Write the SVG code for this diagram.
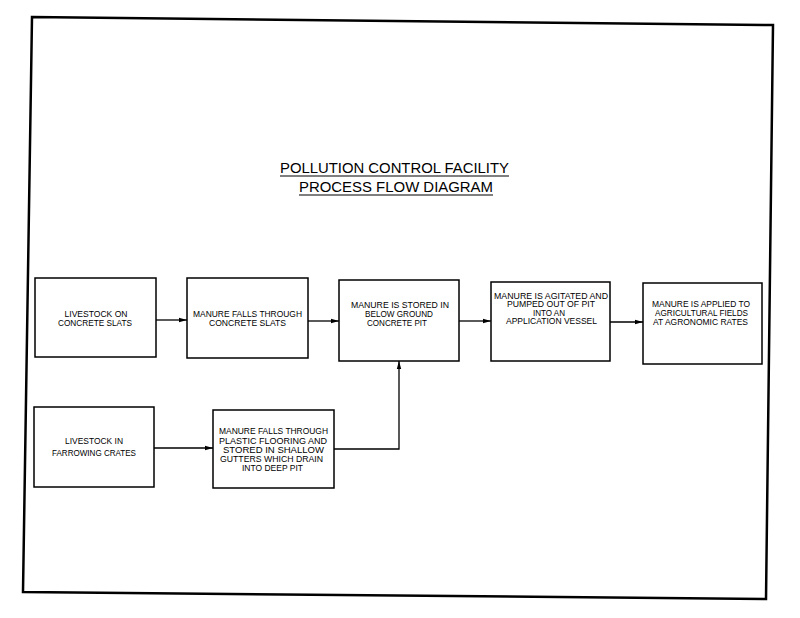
<svg xmlns="http://www.w3.org/2000/svg" width="800" height="618" viewBox="0 0 800 618">
<style>
.box{fill:#fff;stroke:#000;stroke-width:1.5}
.t{font-family:"Liberation Sans",Arial,sans-serif;font-size:8.5px;text-anchor:middle;fill:#000}
.title{font-family:"Liberation Sans",Arial,sans-serif;font-size:14px;text-anchor:middle;fill:#000}
.c{fill:none;stroke:#000;stroke-width:1.3}
</style>
<defs>
<marker id="ah" markerWidth="8" markerHeight="6" refX="8" refY="3" orient="auto" markerUnits="userSpaceOnUse">
<path d="M0,0.8 L8,3 L0,5.2 Z" fill="#000"/>
</marker>
</defs>
<rect width="800" height="618" fill="#fff"/>
<g id="frame">
<polygon points="32,17 773,25 766,599 23,592" fill="none" stroke="#000" stroke-width="2.5"/>
</g>
<g id="title">
<text class="title" x="394.5" y="173" textLength="229" lengthAdjust="spacingAndGlyphs">POLLUTION CONTROL FACILITY</text>
<line x1="280" y1="176" x2="509" y2="176" stroke="#000" stroke-width="1.2"/>
<text class="title" x="396" y="192" textLength="194" lengthAdjust="spacingAndGlyphs">PROCESS FLOW DIAGRAM</text>
<line x1="299" y1="195" x2="493" y2="195" stroke="#000" stroke-width="1.2"/>
</g>
<g id="connectors">
<path class="c" d="M156,320 H187" marker-end="url(#ah)"/>
<path class="c" d="M308,321 H339" marker-end="url(#ah)"/>
<path class="c" d="M459,321 H491" marker-end="url(#ah)"/>
<path class="c" d="M610,322 H643" marker-end="url(#ah)"/>
<path class="c" d="M154,448 H213" marker-end="url(#ah)"/>
<path class="c" d="M334,449 H399 V361" marker-end="url(#ah)"/>
</g>
<g id="n1">
<rect class="box" x="35" y="278" width="121" height="79"/>
<text class="t" x="96" y="317" textLength="63" lengthAdjust="spacingAndGlyphs">LIVESTOCK ON</text>
<text class="t" x="95" y="326" textLength="74" lengthAdjust="spacingAndGlyphs">CONCRETE SLATS</text>
</g>
<g id="n2">
<rect class="box" x="187" y="278" width="121" height="80"/>
<text class="t" x="247.5" y="317" textLength="109" lengthAdjust="spacingAndGlyphs">MANURE FALLS THROUGH</text>
<text class="t" x="247.5" y="326" textLength="77" lengthAdjust="spacingAndGlyphs">CONCRETE SLATS</text>
</g>
<g id="n3">
<rect class="box" x="339" y="280" width="120" height="81"/>
<text class="t" x="400" y="308" textLength="98" lengthAdjust="spacingAndGlyphs">MANURE IS STORED IN</text>
<text class="t" x="399" y="317" textLength="68" lengthAdjust="spacingAndGlyphs">BELOW GROUND</text>
<text class="t" x="397" y="326" textLength="60" lengthAdjust="spacingAndGlyphs">CONCRETE PIT</text>
</g>
<g id="n4">
<rect class="box" x="491" y="282" width="119" height="79"/>
<text class="t" x="551" y="298.5" textLength="114" lengthAdjust="spacingAndGlyphs">MANURE IS AGITATED AND</text>
<text class="t" x="551" y="307" textLength="88" lengthAdjust="spacingAndGlyphs">PUMPED OUT OF PIT</text>
<text class="t" x="549" y="315.5" textLength="32" lengthAdjust="spacingAndGlyphs">INTO AN</text>
<text class="t" x="551.5" y="324" textLength="91" lengthAdjust="spacingAndGlyphs">APPLICATION VESSEL</text>
</g>
<g id="n5">
<rect class="box" x="643" y="283" width="119" height="81"/>
<text class="t" x="701" y="307" textLength="98" lengthAdjust="spacingAndGlyphs">MANURE IS APPLIED TO</text>
<text class="t" x="701.5" y="316" textLength="93" lengthAdjust="spacingAndGlyphs">AGRICULTURAL FIELDS</text>
<text class="t" x="700.5" y="325" textLength="95" lengthAdjust="spacingAndGlyphs">AT AGRONOMIC RATES</text>
</g>
<g id="n6">
<rect class="box" x="34" y="407" width="120" height="80"/>
<text class="t" x="94" y="444" textLength="58" lengthAdjust="spacingAndGlyphs">LIVESTOCK IN</text>
<text class="t" x="94" y="456" textLength="84" lengthAdjust="spacingAndGlyphs">FARROWING CRATES</text>
</g>
<g id="n7">
<rect class="box" x="213" y="410" width="121" height="78"/>
<text class="t" x="273.5" y="434" textLength="109" lengthAdjust="spacingAndGlyphs">MANURE FALLS THROUGH</text>
<text class="t" x="273" y="444" textLength="108" lengthAdjust="spacingAndGlyphs">PLASTIC FLOORING AND</text>
<text class="t" x="273.5" y="453" textLength="101" lengthAdjust="spacingAndGlyphs">STORED IN SHALLOW</text>
<text class="t" x="271.5" y="462" textLength="103" lengthAdjust="spacingAndGlyphs">GUTTERS WHICH DRAIN</text>
<text class="t" x="272.5" y="471" textLength="61" lengthAdjust="spacingAndGlyphs">INTO DEEP PIT</text>
</g>
</svg>
